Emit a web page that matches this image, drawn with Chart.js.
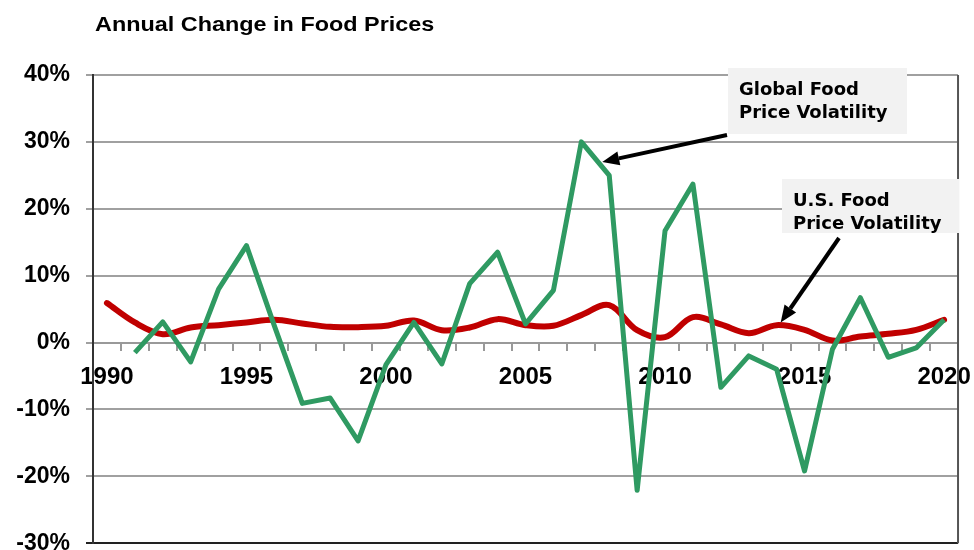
<!DOCTYPE html>
<html>
<head>
<meta charset="utf-8">
<script src="https://cdn.jsdelivr.net/npm/chart.js@4.4.0/dist/chart.umd.min.js"></script>
<style>
  html, body { margin: 0; padding: 0; background: #fff; overflow: hidden; }
  #wrap { position: relative; width: 984px; height: 573px; }
  #title {
    position: absolute; left: 95px; top: 14px; z-index: 2;
    font: bold 20px "Liberation Sans", Arial, sans-serif; line-height: 20px;
    transform: scaleX(1.17); transform-origin: 0 0; white-space: nowrap; color: #000;
  }
</style>
</head>
<body>
<div id="wrap">
  <div id="title">Annual Change in Food Prices</div>
  <canvas id="food-chart"></canvas>
</div>
<script>
const years = ['1990', '1991', '1992', '1993', '1994', '1995', '1996', '1997', '1998', '1999',
               '2000', '2001', '2002', '2003', '2004', '2005', '2006', '2007', '2008', '2009',
               '2010', '2011', '2012', '2013', '2014', '2015', '2016', '2017', '2018', '2019', '2020'];

// annual % change
const usFood = [5.9, 3.0, 1.25, 2.25, 2.6, 3.0, 3.4, 2.85, 2.35, 2.3,
                2.5, 3.3, 1.85, 2.25, 3.5, 2.6, 2.5, 4.1, 5.6, 1.85,
                0.8, 3.8, 2.7, 1.4, 2.6, 1.9, 0.3, 0.9, 1.3, 1.9, 3.4];
const globalFood = [null, -1.5, 3.1, -2.9, 8.0, 14.5, 2.5, -9.1, -8.3, -14.7,
                    -3.3, 3.0, -3.2, 8.8, 13.5, 2.8, 7.8, 30.0, 25.0, -22.1,
                    16.7, 23.7, -6.7, -2.0, -4.0, -19.2, -1.0, 6.7, -2.2, -0.8, 3.4];

const yMin = -30;
const yMax = 40;
const yStep = 10;

const globalLabel = ['Global Food', 'Price Volatility'];
const usLabel = ['U.S. Food', 'Price Volatility'];

function drawArrow(ctx, x1, y1, x2, y2) {
    const ang = Math.atan2(y2 - y1, x2 - x1);
    const headLen = 17, headW = 7;
    const bx = x2 - headLen * Math.cos(ang), by = y2 - headLen * Math.sin(ang);
    ctx.strokeStyle = '#000';
    ctx.lineWidth = 4;
    ctx.beginPath();
    ctx.moveTo(x1, y1);
    ctx.lineTo(bx, by);
    ctx.stroke();
    ctx.fillStyle = '#000';
    ctx.beginPath();
    ctx.moveTo(x2, y2);
    ctx.lineTo(bx + headW * Math.sin(ang), by - headW * Math.cos(ang));
    ctx.lineTo(bx - headW * Math.sin(ang), by + headW * Math.cos(ang));
    ctx.closePath();
    ctx.fill();
}

function drawCallout(ctx, box, lines, textX, baselines) {
    ctx.fillStyle = '#f2f2f2';
    ctx.fillRect(box[0], box[1], box[2], box[3]);
    ctx.fillStyle = '#000';
    ctx.font = 'bold 18px "DejaVu Sans", Verdana, sans-serif';
    ctx.textBaseline = 'alphabetic';
    ctx.textAlign = 'left';
    lines.forEach((t, i) => ctx.fillText(t, textX, baselines[i]));
}

const callouts = {
    id: 'callouts',
    afterDatasetsDraw(chart) {
        const { ctx, chartArea: a, scales: { x, y } } = chart;
        ctx.save();
        // right frame edge
        ctx.strokeStyle = '#555';
        ctx.lineWidth = 2;
        ctx.beginPath();
        ctx.moveTo(a.right, a.top);
        ctx.lineTo(a.right, a.bottom);
        ctx.stroke();

        drawCallout(ctx, [728, 68, 179, 66], globalLabel, 739, [95, 118]);
        drawArrow(ctx, 727, 135, x.getPixelForValue(years.indexOf('2008')) - 7, y.getPixelForValue(27));

        drawCallout(ctx, [782, 179, 177, 54], usLabel, 793, [206, 229]);
        drawArrow(ctx, 839, 238, x.getPixelForValue(years.indexOf('2014')) + 4, y.getPixelForValue(3));
        ctx.restore();
    }
};

const ctx = document.getElementById('food-chart').getContext('2d');
new Chart(ctx, {
    type: 'line',
    data: {
        labels: years,
        datasets: [
            {
                label: 'Global Food Price Volatility',
                data: globalFood,
                borderColor: '#2f9a62',
                borderWidth: 5,
                borderJoinStyle: 'round',
                pointRadius: 0,
                tension: 0,
                order: 1
            },
            {
                label: 'U.S. Food Price Volatility',
                data: usFood,
                borderColor: '#c00000',
                borderWidth: 6,
                borderCapStyle: 'round',
                pointRadius: 0,
                tension: 0.35,
                order: 2
            }
        ]
    },
    options: {
        responsive: true,
        maintainAspectRatio: false,
        animation: false,
        layout: { padding: { top: 75, right: 14, bottom: 14, left: 0 } },
        plugins: {
            legend: { display: false },
            tooltip: { enabled: false }
        },
        scales: {
            x: {
                type: 'category',
                offset: true,
                position: { y: 0 },
                grid: { offset: true, drawOnChartArea: false, drawTicks: true, tickLength: 7, color: '#999', lineWidth: 2 },
                border: { display: true, color: '#999', width: 2 },
                ticks: {
                    autoSkip: false,
                    maxRotation: 0,
                    padding: 13,
                    color: '#000',
                    font: { family: '"Liberation Sans", Arial, sans-serif', size: 24, weight: 'bold' },
                    callback: (v, i) => (Number(years[i]) % 5 === 0 ? years[i] : '')
                }
            },
            y: {
                min: yMin,
                max: yMax,
                afterFit: s => { s.width = 93; },
                grid: {
                    color: c => (c.tick && c.tick.value === yMin ? '#222' : '#a0a0a0'),
                    lineWidth: 2,
                    tickLength: 7
                },
                border: { display: true, color: '#333', width: 2 },
                ticks: {
                    stepSize: yStep,
                    padding: 16,
                    color: '#000',
                    font: { family: '"Liberation Sans", Arial, sans-serif', size: 23, weight: 'bold' },
                    callback: v => v + '%'
                }
            }
        }
    },
    plugins: [callouts]
});
</script>
</body>
</html>
